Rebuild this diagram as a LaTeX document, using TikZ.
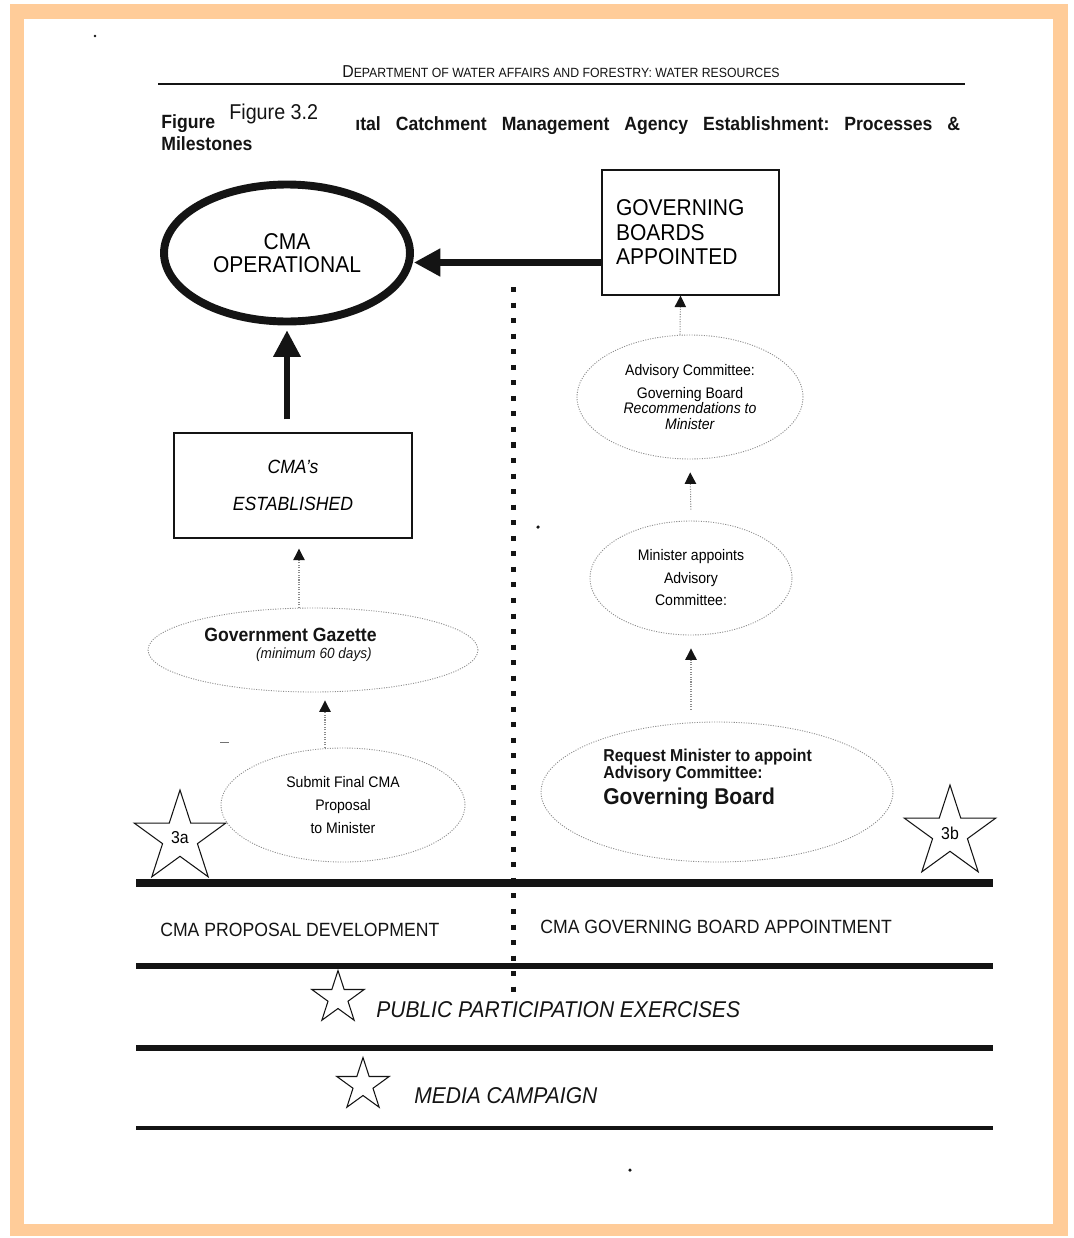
\documentclass[tikz,border=0pt]{standalone}
\usepackage{fontspec}
\setmainfont[FakeStretch=0.92]{Liberation Sans}
\usepackage{tikz}
\usetikzlibrary{positioning,arrows.meta,calc,shapes.geometric}
\definecolor{peach} {HTML}{FFCC99}
\definecolor{ink}   {HTML}{141414}
\definecolor{dots}  {HTML}{8C8C8C}
\newcommand\fsz[2]{\fontsize{#1}{#2}\selectfont}
\frenchspacing
\tikzset{
  goal/.style     = {ellipse, draw=ink, line width=4.5pt, inner sep=0pt,
                     align=center, font=\fsz{13}{13}},
  milebox/.style  = {rectangle, draw=ink, line width=0.8pt, inner sep=0pt},
  bubble/.style   = {ellipse, draw=dots, line width=0.5pt,
                     dash pattern=on 0.6pt off 0.8pt, inner sep=0pt, align=center},
  bigarrow/.style = {-{Triangle[length=15pt,width=15pt]}, draw=ink, line width=3.5pt},
  link/.style     = {-{Triangle[length=6.5pt,width=6.5pt,color=ink,fill=ink]}, draw=dots,
                     line width=0.6pt, dash pattern=on 0.6pt off 0.8pt},
  bar/.style      = {draw=ink, line width=3.6pt},
  divider/.style  = {draw=ink, line width=2.85pt, dash pattern=on 2.85pt off 6pt},
  starmark/.style = {star, star points=5, star point ratio=2.618, draw=ink,
                     line width=0.6pt, inner sep=0pt, font=\fsz{9.8}{11}},
  txt/.style      = {inner sep=0pt, text=ink},
}

\begin{document}
\begin{tikzpicture}[x=0.02cm, y=-0.02cm]
  \useasboundingbox (0,0) rectangle (1074,1238);
  % page frame
  \fill[white] (0,0) rectangle (1074,1238);
  \fill[peach] (10,4) rectangle (1068,1236);
  \fill[white] (24,19) rectangle (1053,1224);

  % header
  \node[txt, anchor=base] (dept) at (561,77)
    {\fsz{9.8}{11}D\fsz{7.6}{9}EPARTMENT OF WATER AFFAIRS AND FORESTRY: WATER RESOURCES};
  \draw[ink, line width=0.8pt] (158,84) -- (965,84);
  \node[txt, anchor=base west, font=\bfseries\fsz{10.9}{12}] (figa) at (161,128) {Figure};
  \node[txt, anchor=base west, font=\fsz{12.2}{14}] (fignum) at (229,119) {Figure 3.2};
  \node[txt, anchor=base west, font=\bfseries\fsz{10.9}{12}] (title) at (355,130)
    {\makebox[12.1cm][s]{ıtal Catchment Management Agency Establishment: Processes \&}};
  \node[txt, anchor=base west, font=\bfseries\fsz{10.9}{12}] (title2) at (161,150) {Milestones};

  % milestones
  \node[goal, minimum width=4.92cm, minimum height=2.74cm] (ops) at (287,253) {CMA\\OPERATIONAL};
  \node[milebox, minimum width=3.54cm, minimum height=2.5cm, text width=2.98cm,
        align=left, font=\fsz{13}{14}] (gov) at (690.5,232.5) {GOVERNING\\BOARDS\\APPOINTED};
  \node[milebox, minimum width=4.76cm, minimum height=2.1cm, align=center,
        font=\itshape\fsz{10.9}{12}] (estab) at (293,485.5) {CMA's\\[9.5pt]ESTABLISHED};

  % right-hand steps
  \node[bubble, minimum width=4.52cm, minimum height=2.48cm, font=\fsz{8.7}{9}] (adv) at (690,397)
    {Advisory Committee:\\[4pt]Governing Board\\\textit{Recommendations to}\\\textit{Minister}};
  \node[bubble, minimum width=4.04cm, minimum height=2.28cm, font=\fsz{8.7}{12.8}] (minap) at (691,578)
    {Minister appoints\\Advisory\\Committee:};
  \node[bubble, minimum width=7.04cm, minimum height=2.8cm] (req) at (717,792) {};
  \node[txt, anchor=north west, align=left, font=\bfseries\fsz{9.8}{9.7}] (reqtxt) at (603,749)
    {Request Minister to appoint\\Advisory Committee:\\[2pt]{\fsz{13}{13}Governing Board}};

  % left-hand steps
  \node[bubble, minimum width=6.6cm, minimum height=1.68cm] (gaz) at (313,650) {};
  \node[txt, anchor=north east, align=right, font=\fsz{8.4}{9.6}] (gaztxt) at (377,628)
    {{\bfseries\fsz{10.9}{9.6}Government Gazette}\\\textit{(minimum 60 days)}\hspace*{0.1cm}};
  \node[bubble, minimum width=4.88cm, minimum height=2.28cm, font=\fsz{8.7}{13}] (sub) at (343,805)
    {Submit Final CMA\\Proposal\\to Minister};

  % stars
  \node[starmark, minimum size=1.92cm] (s3a) at (180,838) {3a};
  \node[starmark, minimum size=1.92cm] (s3b) at (950,833) {3b};
  \node[starmark, minimum size=1.1cm] (sppe) at (338,998) {};
  \node[starmark, minimum size=1.1cm] (smedia) at (363,1085) {};

  % links
  \draw[bigarrow, line width=3pt, shorten <=0.26cm, shorten >=0.1cm] (ops.south |- estab.north) -- (ops.south);
  \coordinate (govout) at ($(gov.west)+(0,30)$);
  \draw[bigarrow, line width=4pt] (govout) -- (govout -| ops.east);
  \draw[link] ([xshift=-0.2cm]adv.north) -- ([xshift=-0.2cm]gov.south);
  \draw[link, shorten <=0.22cm, shorten >=0.26cm] (minap.north) -- (adv.south);
  \draw[link, shorten <=0.24cm, shorten >=0.26cm] (minap.south |- req.north) -- (minap.south);
  \coordinate (gazin) at ([xshift=0.24cm]gaz.south);
  \draw[link, shorten >=0.16cm] (gazin |- sub.north) -- (gazin);
  \coordinate (estin) at ([xshift=0.12cm]estab.south);
  \draw[link, shorten >=0.2cm] (estin |- gaz.north) -- (estin);

  % phase bands
  \draw[bar, line width=4pt] (136,883) -- (993,883);
  \draw[bar] (136,966) -- (993,966);
  \draw[bar] (136,1048) -- (993,1048);
  \draw[bar, line width=2.3pt] (136,1128) -- (993,1128);
  \draw[divider] (513,287) -- (513,992);
  \node[txt, anchor=base west, font=\fsz{10.9}{12}] (phase1) at (160,936) {CMA PROPOSAL DEVELOPMENT};
  \node[txt, anchor=base west, font=\fsz{10.9}{12}] (phase2) at (540,933) {CMA GOVERNING BOARD APPOINTMENT};
  \node[txt, anchor=base west, font=\itshape\fsz{13}{14}] (ppe) at (376,1017) {PUBLIC PARTICIPATION EXERCISES};
  \node[txt, anchor=base west, font=\itshape\fsz{13}{14}] (media) at (414,1103) {MEDIA CAMPAIGN};

  % specks
  \fill[ink] (95,36) circle (0.8pt);
  \fill[ink] (538,527) circle (1pt);
  \fill[ink] (630,1170) circle (1pt);
  \draw[ink!60, line width=0.5pt] (220,742) -- (229,742);
\end{tikzpicture}
\end{document}
